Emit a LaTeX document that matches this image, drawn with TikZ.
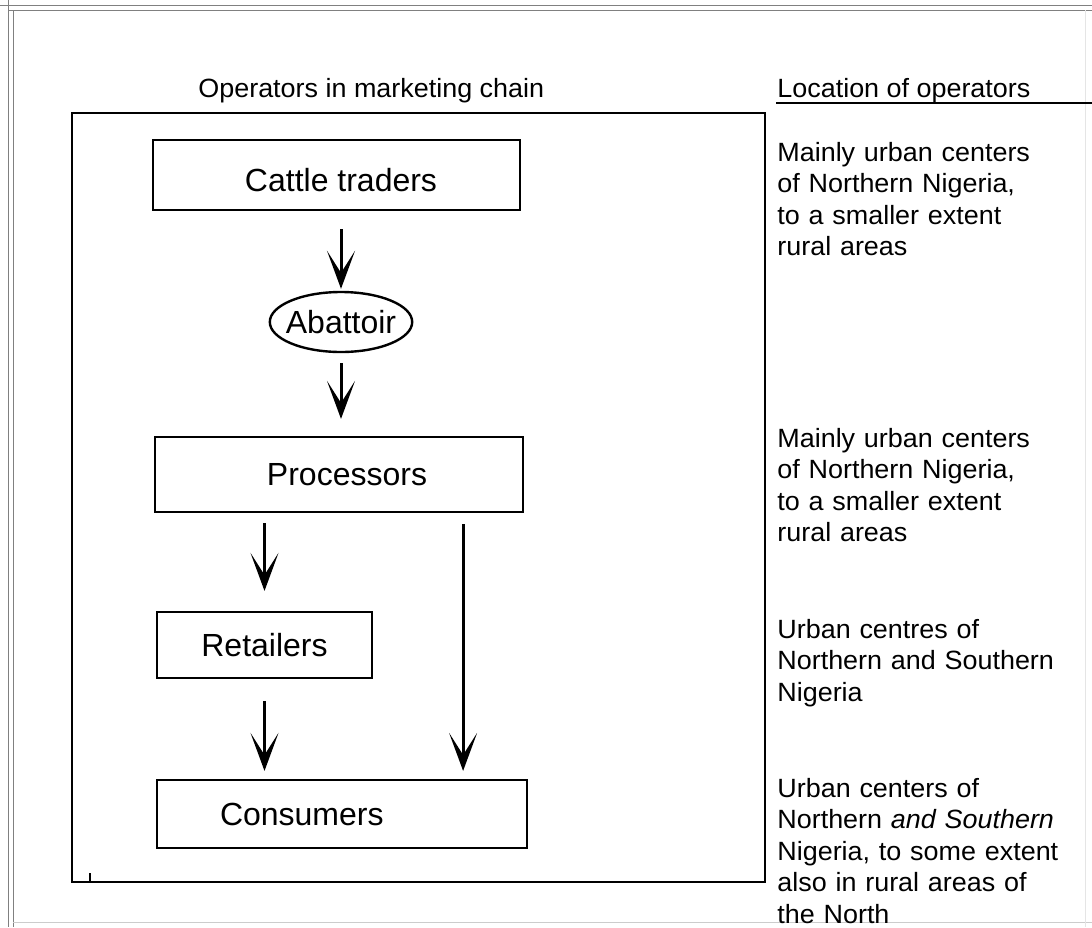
\documentclass[tikz,border=0pt]{standalone}
\usepackage{fontspec}
\setmainfont{Liberation Sans}
\newfontfamily\widefont[FakeStretch=1.02]{Liberation Sans}
\usetikzlibrary{arrows.meta,calc,shapes.geometric}
\begin{document}
\begin{tikzpicture}[x=0.5pt,y=-0.5pt,
  stepbox/.style={draw, line width=1.1pt, rectangle, inner sep=0pt, font=\fontsize{16}{19}\selectfont},
  oval/.style={draw, ellipse, line width=1.2pt, inner xsep=-2.4pt, inner ysep=0pt, minimum width=71pt, minimum height=30pt, font=\fontsize{16}{19}\selectfont},
  flow/.style={line width=1.5pt, -{Stealth[length=19pt,width=14pt,inset=11pt,line width=1.6pt]}},
  info/.style={anchor=base west, inner sep=0pt, text width=170pt, align=left, font=\widefont\fontsize{13.2}{15.8}\selectfont},
  head/.style={anchor=base west, inner sep=0pt, font=\widefont\fontsize{13.2}{15.8}\selectfont},
  frameline/.style={draw=gray, line width=0.5pt},
]
\useasboundingbox (0,0) rectangle (1092,927);
\fill[white] (0,0) rectangle (1092,927);

% outer frame
\draw[frameline] (0,5) -- (1092,5);
\draw[frameline] (8,10) -- (1092,10);
\draw[frameline] (8,0) -- (8,927);
\draw[frameline] (13,10) -- (13,927);
\draw[draw=gray!40, line width=0.5pt] (13,922) -- (1092,922);
\draw[draw=gray!20, line width=0.5pt] (1085,10) -- (1085,927);

% inner frame
\draw[line width=0.6pt] (72,113) rectangle (765,882);
\draw[line width=0.6pt] (90,873) -- (90,882);

% headings
\node[head] (h1) at (198,97) {Operators in marketing chain};
\node[head] (h2) at (777,97) {Location of operators};
\draw[line width=0.6pt] (776,103) -- (1092,103);

% chain
\node[stepbox, minimum width=183.5pt, minimum height=35pt, text height=16.5pt, text depth=0pt] (ct) at (336.5,175) {\hspace*{4.5pt}Cattle traders};
\node[oval] (ab) at (341,322) {Abattoir};
\node[stepbox, minimum width=184pt, minimum height=37.5pt] (proc) at (339,474.5) {\hspace*{8pt}Processors};
\node[stepbox, minimum width=107.5pt, minimum height=33pt] (ret) at (264.5,645) {Retailers};
\node[stepbox, minimum height=34pt, inner xsep=31.5pt, text width=122pt, align=left] (cons) at (342,814) {Consumers};

\draw[flow, shorten <=9pt, shorten >=1pt] (ab.north |- ct.south) -- (ab.north);
\draw[flow, shorten <=5pt, shorten >=8.5pt] (ab.south) -- (ab.south |- proc.north);
\draw[flow, shorten <=5pt, shorten >=10pt] (ret.north |- proc.south) -- (ret.north);
\draw[flow, shorten <=11pt, shorten >=4pt] (ret.south) -- (ret.south |- cons.north);
\coordinate (pr) at ($(proc.south east)+(-61,0)$);
\draw[flow, shorten <=5.5pt, shorten >=4pt] (pr) -- (pr |- cons.north);

% locations
\node[info] (l1) at (777,161) {Mainly urban centers\\of Northern Nigeria,\\to a smaller extent\\rural areas};
\node[info] (l2) at (777,447) {Mainly urban centers\\of Northern Nigeria,\\to a smaller extent\\rural areas};
\node[info] (l3) at (777,638) {Urban centres of\\Northern and Southern\\Nigeria};
\node[info] (l4) at (777,797) {Urban centers of\\Northern \textit{and Southern}\\Nigeria, to some extent\\also in rural areas of\\the North};
\end{tikzpicture}
\end{document}
